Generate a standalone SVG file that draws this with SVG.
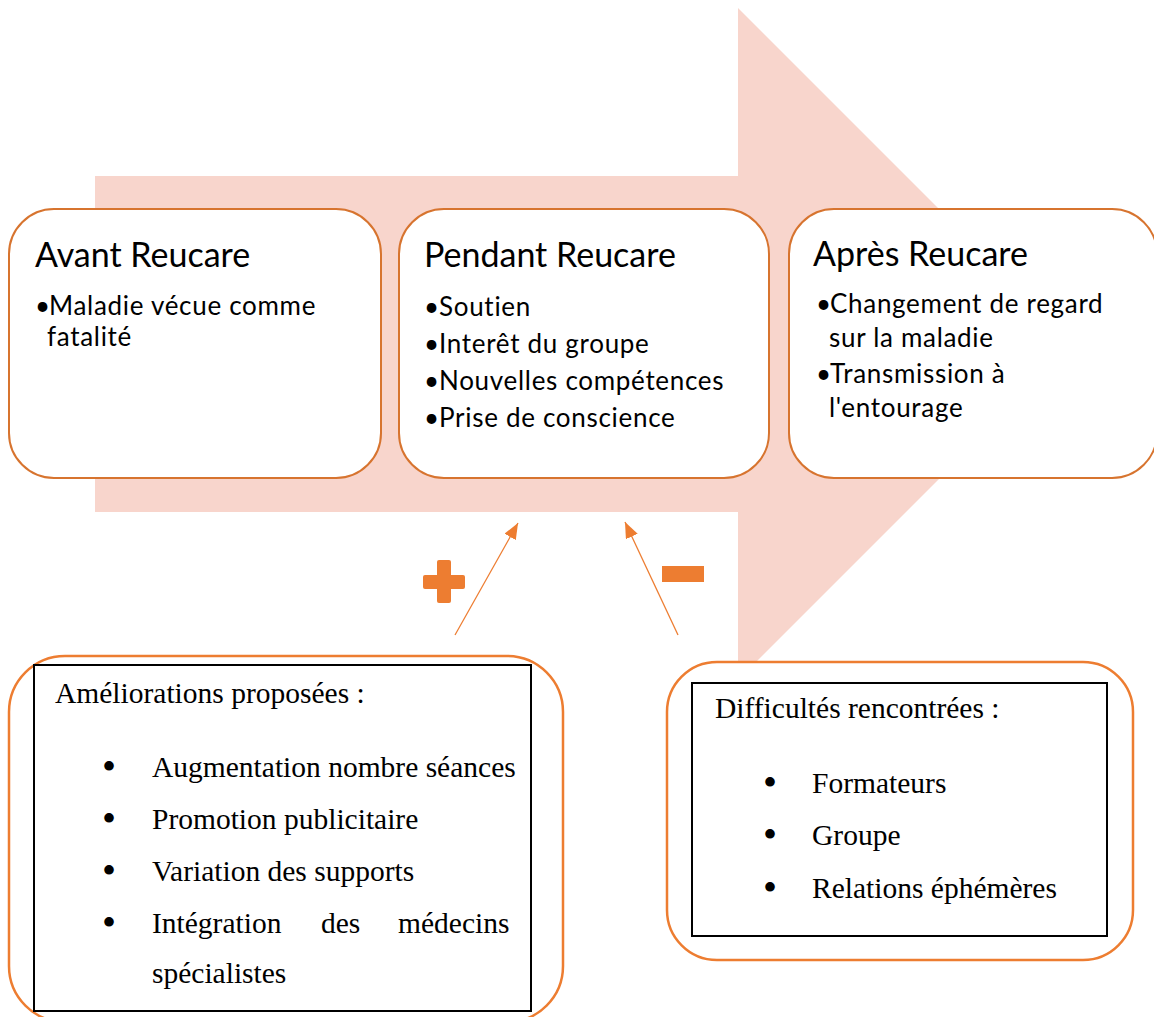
<svg xmlns="http://www.w3.org/2000/svg" width="1154" height="1017" viewBox="0 0 1154 1017">
<style>
.bg{fill:#F8D5CC}
.box{fill:#fff;stroke:#D7742F;stroke-width:2}
.title{font-family:Lato,"Liberation Sans",sans-serif;font-size:34px;fill:#000}
.item{font-family:Lato,"Liberation Sans",sans-serif;font-size:26px;letter-spacing:0.7px;fill:#000}
.obox{fill:#fff;stroke:#ED7D31;stroke-width:2.5}
.bbox{fill:#fff;stroke:#000;stroke-width:2}
.serif{font-family:"Liberation Serif","Times New Roman",serif;font-size:29.5px;fill:#000}
.dot{font-family:"Liberation Serif","Times New Roman",serif;font-size:40px;fill:#000;text-anchor:middle}
.conn{stroke:#ED7D31;stroke-width:1.3;fill:none}
.sign{fill:#ED7D31}
</style>
<defs>
<marker id="ah" markerUnits="userSpaceOnUse" markerWidth="16" markerHeight="13" refX="16" refY="6.5" orient="auto">
<path d="M0,0 L16,6.5 L0,13 z" fill="#ED7D31"/>
</marker>
</defs>
<polygon id="bigArrow" class="bg" points="95,176 738,176 738,8 1074,344 738,680 738,512 95,512"/>
<g id="avant">
<rect class="box" x="9" y="209" width="372" height="269" rx="45"/>
<text class="title" x="35" y="267">Avant Reucare</text>
<text class="item" x="35" y="315">•<tspan x="49">Maladie vécue comme</tspan></text>
<text class="item" x="47" y="346">fatalité</text>
</g>
<g id="pendant">
<rect class="box" x="399" y="209" width="370" height="269" rx="45"/>
<text class="title" x="424" y="267">Pendant Reucare</text>
<text class="item" x="424" y="316">•<tspan x="439">Soutien</tspan></text>
<text class="item" x="424" y="353">•<tspan x="439">Interêt du groupe</tspan></text>
<text class="item" x="424" y="390">•<tspan x="439">Nouvelles compétences</tspan></text>
<text class="item" x="424" y="427">•<tspan x="439">Prise de conscience</tspan></text>
</g>
<g id="apres">
<rect class="box" x="789" y="209" width="368" height="269" rx="45"/>
<text class="title" x="813" y="266">Après Reucare</text>
<text class="item" x="816" y="313">•<tspan x="830">Changement de regard</tspan></text>
<text class="item" x="829" y="347">sur la maladie</text>
<text class="item" x="816" y="383">•<tspan x="830">Transmission à</tspan></text>
<text class="item" x="829" y="417">l'entourage</text>
</g>
<g id="plus">
<rect class="sign" x="423" y="575" width="42" height="14" rx="2"/>
<rect class="sign" x="437" y="560" width="14" height="43" rx="2"/>
</g>
<g id="minus">
<rect class="sign" x="662" y="566" width="42" height="16"/>
</g>
<g id="connectors">
<line class="conn" x1="455" y1="635" x2="518" y2="523" marker-end="url(#ah)"/>
<line class="conn" x1="678" y1="635" x2="625" y2="522" marker-end="url(#ah)"/>
</g>
<g id="ameliorations">
<rect class="obox" x="9" y="656" width="554" height="366" rx="56"/>
<rect class="bbox" x="34" y="665" width="497" height="346"/>
<text class="serif" x="55" y="703">Améliorations proposées :</text>
<text class="dot" x="109" y="780">•</text>
<text class="serif" x="152" y="777">Augmentation nombre séances</text>
<text class="dot" x="109" y="832">•</text>
<text class="serif" x="152" y="829">Promotion publicitaire</text>
<text class="dot" x="109" y="884">•</text>
<text class="serif" x="152" y="881">Variation des supports</text>
<text class="dot" x="109" y="936">•</text>
<text class="serif" x="152" y="933">Intégration<tspan x="321">des</tspan><tspan x="398">médecins</tspan></text>
<text class="serif" x="152" y="983">spécialistes</text>
</g>
<g id="difficultes">
<rect class="obox" x="667" y="662" width="466" height="298" rx="50"/>
<rect class="bbox" x="692" y="683" width="415" height="253"/>
<text class="serif" x="715" y="718">Difficultés rencontrées :</text>
<text class="dot" x="770" y="796">•</text>
<text class="serif" x="812" y="793">Formateurs</text>
<text class="dot" x="770" y="848">•</text>
<text class="serif" x="812" y="845">Groupe</text>
<text class="dot" x="770" y="901">•</text>
<text class="serif" x="812" y="898">Relations éphémères</text>
</g>
</svg>
